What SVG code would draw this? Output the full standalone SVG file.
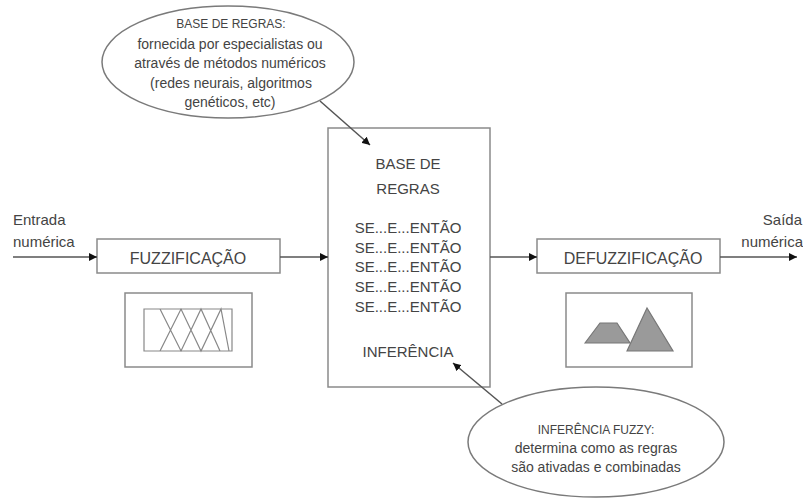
<svg xmlns="http://www.w3.org/2000/svg" width="803" height="499" viewBox="0 0 803 499">
<defs>
<style>
text{font-family:"Liberation Sans",Arial,sans-serif;fill:#444}
.box{fill:#fff;stroke:#8a8a8a;stroke-width:1.5}
.ell{fill:#fff;stroke:#7a7a7a;stroke-width:1.5}
.con{stroke:#555;stroke-width:1.5;fill:none}
.mf{fill:none;stroke:#888;stroke-width:1.2}
.shape{fill:#9a9a9a;stroke:#777;stroke-width:1.2}
.c{text-anchor:middle}
.lbl{font-size:15px}
.big{font-size:16px}
.cap{font-size:12px}
.low{font-size:14px}
</style>
<marker id="ah" viewBox="0 0 10 10" refX="10" refY="5" markerWidth="8" markerHeight="8" markerUnits="userSpaceOnUse" orient="auto">
<path d="M0,0 L10,5 L0,10 z" fill="#111"/>
</marker>
</defs>
<g id="entrada">
<text class="lbl" x="13" y="225">Entrada</text>
<text class="lbl" x="13" y="247">numérica</text>
</g>
<g id="saida">
<text class="lbl" x="802" y="225" text-anchor="end">Saída</text>
<text class="lbl" x="803" y="247" text-anchor="end">numérica</text>
</g>
<g id="fuzzificacao">
<rect class="box" x="97" y="239" width="183" height="34"/>
<text class="big c" x="188" y="264">FUZZIFICAÇÃO</text>
</g>
<g id="fuzz-icon">
<rect class="box" x="125" y="293" width="127" height="74"/>
<path class="mf" d="M144,309 H232 V351 H144 Z M160,309 L181,351 L201,309 L220,351 M160,351 L181,309 L201,351 L221,309 L229,351"/>
</g>
<g id="inferencia-box">
<rect class="box" x="328" y="128" width="162" height="259"/>
<text class="lbl c" x="408" y="169">BASE DE</text>
<text class="lbl c" x="408" y="194">REGRAS</text>
<text class="lbl c" x="408" y="233">SE...E...ENTÃO</text>
<text class="lbl c" x="408" y="253">SE...E...ENTÃO</text>
<text class="lbl c" x="408" y="272">SE...E...ENTÃO</text>
<text class="lbl c" x="408" y="292">SE...E...ENTÃO</text>
<text class="lbl c" x="408" y="312">SE...E...ENTÃO</text>
<text class="lbl c" x="408" y="357">INFERÊNCIA</text>
</g>
<g id="defuzzificacao">
<rect class="box" x="537" y="239" width="183" height="34"/>
<text class="big c" x="633" y="264">DEFUZZIFICAÇÃO</text>
</g>
<g id="defuzz-icon">
<rect class="box" x="566" y="293" width="126" height="74"/>
<polygon class="shape" points="585,343 600,323 617,323 630,343"/>
<polygon class="shape" points="627,351 647,308 673,351"/>
</g>
<g id="nota-base">
<ellipse class="ell" cx="228" cy="62" rx="126" ry="56"/>
<text class="cap c" x="231" y="28">BASE DE REGRAS:</text>
<text class="low c" x="230" y="49">fornecida por especialistas ou</text>
<text class="low c" x="230" y="68">através de métodos numéricos</text>
<text class="low c" x="231" y="88">(redes neurais, algoritmos</text>
<text class="low c" x="230" y="107">genéticos, etc)</text>
</g>
<g id="nota-inferencia">
<ellipse class="ell" cx="596" cy="442" rx="128" ry="55"/>
<text class="cap c" x="596" y="434">INFERÊNCIA FUZZY:</text>
<text class="low c" x="596" y="453">determina como as regras</text>
<text class="low c" x="596" y="472">são ativadas e combinadas</text>
</g>
<g id="connectors">
<line class="con" x1="13" y1="257" x2="97" y2="257" marker-end="url(#ah)"/>
<line class="con" x1="280" y1="257" x2="328" y2="257" marker-end="url(#ah)"/>
<line class="con" x1="490" y1="257" x2="537" y2="257" marker-end="url(#ah)"/>
<line class="con" x1="720" y1="257" x2="797" y2="257" marker-end="url(#ah)"/>
<line class="con" x1="320" y1="101" x2="370" y2="145" marker-end="url(#ah)"/>
<line class="con" x1="502" y1="404" x2="453" y2="363" marker-end="url(#ah)"/>
</g>
</svg>
